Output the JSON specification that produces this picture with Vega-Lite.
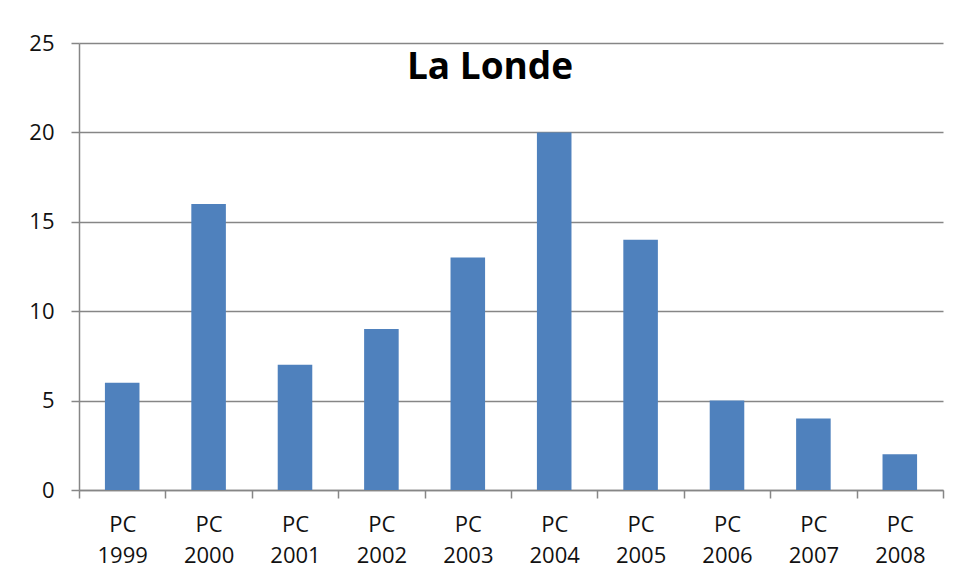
{
  "$schema": "https://vega.github.io/schema/vega-lite/v6.json",
  "width": 864,
  "height": 447,
  "autosize": {"type": "none"},
  "padding": {"left": 79, "top": 43, "right": 15, "bottom": 90},
  "background": "white",
  "config": {"view": {"stroke": null}, "font": "Open Sans"},
  "title": {"text": "La Londe", "font": "Open Sans", "fontSize": 37, "fontWeight": "bold", "color": "black", "anchor": "middle", "offset": -55, "dx": -21},
  "data": {"values": [
    {"period": "PC 1999", "value": 6},
    {"period": "PC 2000", "value": 16},
    {"period": "PC 2001", "value": 7},
    {"period": "PC 2002", "value": 9},
    {"period": "PC 2003", "value": 13},
    {"period": "PC 2004", "value": 20},
    {"period": "PC 2005", "value": 14},
    {"period": "PC 2006", "value": 5},
    {"period": "PC 2007", "value": 4},
    {"period": "PC 2008", "value": 2}
  ]},
  "mark": {"type": "bar", "color": "#4F81BD", "width": {"band": 0.4}},
  "encoding": {
    "x": {"field": "period", "type": "nominal", "sort": null,
      "scale": {"paddingInner": 0, "paddingOuter": 0},
      "axis": {"title": null, "labelAngle": 0, "labelExpr": "split(datum.label, ' ')", "labelFontSize": 22, "labelColor": "#111", "labelLineHeight": 31, "labelPadding": 16, "labelFont": "Open Sans", "domainColor": "#868686", "domainWidth": 1.5, "tickColor": "#868686", "tickSize": 8, "tickBand": "extent", "tickWidth": 1.5}},
    "y": {"field": "value", "type": "quantitative",
      "scale": {"domain": [0, 25]},
      "axis": {"title": null, "values": [0, 5, 10, 15, 20, 25], "labelFontSize": 22, "labelColor": "#111", "labelFont": "Open Sans", "labelPadding": 17, "gridColor": "#868686", "gridWidth": 1.5, "domainColor": "#868686", "domainWidth": 1.5, "tickColor": "#868686", "tickSize": 8, "tickWidth": 1.5}}
  }
}
